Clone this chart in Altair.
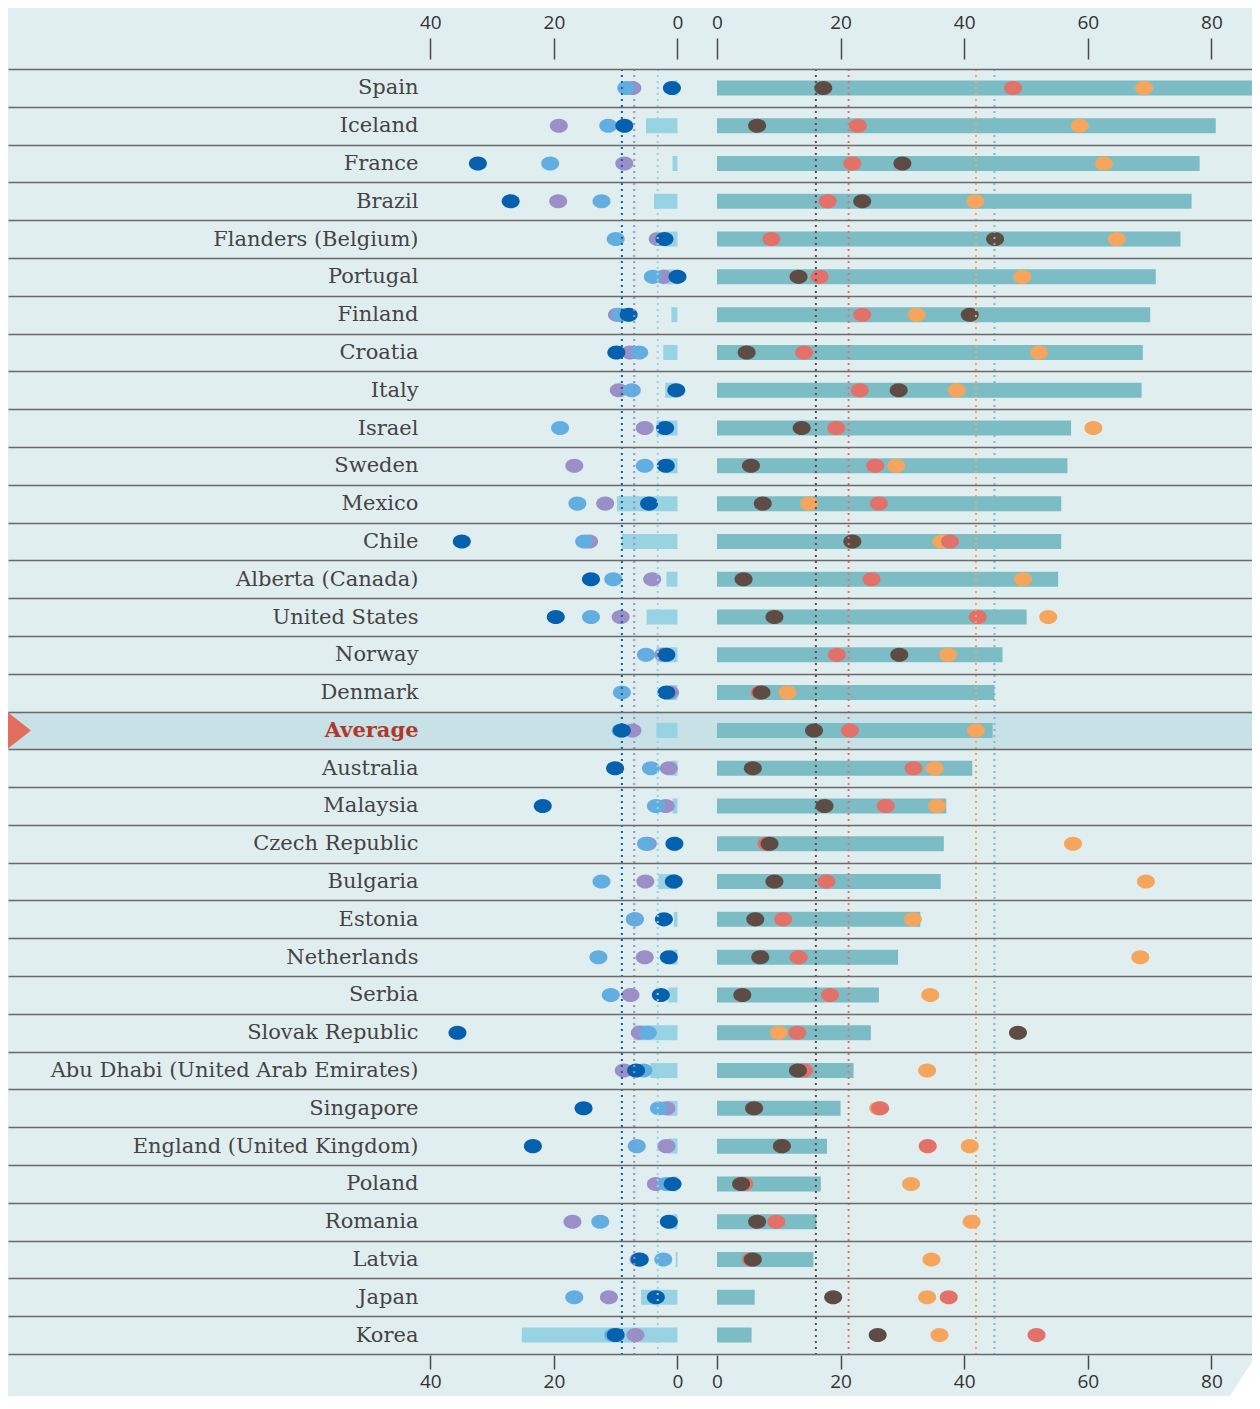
import altair as alt
import pandas as pd

countries = [
    "Spain", "Iceland", "France", "Brazil", "Flanders (Belgium)", "Portugal", "Finland",
    "Croatia", "Italy", "Israel", "Sweden", "Mexico", "Chile", "Alberta (Canada)",
    "United States", "Norway", "Denmark", "Average", "Australia", "Malaysia",
    "Czech Republic", "Bulgaria", "Estonia", "Netherlands", "Serbia", "Slovak Republic",
    "Abu Dhabi (United Arab Emirates)", "Singapore", "England (United Kingdom)", "Poland",
    "Romania", "Latvia", "Japan", "Korea",
]

# left panel (axis reversed: 40 ... 0)
left_bar = [0.6, 5.1, 0.8, 3.8, 2.3, 2.5, 1.0, 2.3, 2.0, 3.4, 1.7, 9.8, 9.0, 1.8,
            5.0, 3.4, 1.2, 3.4, 1.0, 0.8, 0.5, 3.1, 0.6, 1.2, 1.5, 7.1, 4.4, 1.8,
            1.5, 0.8, 0.8, 0.3, 5.9, 25.2]
left_dark = [0.9, 8.6, 32.3, 27.0, 2.1, 0.0, 7.9, 9.9, 0.2, 2.0, 1.9, 4.6, 34.9, 14.0,
             19.7, 1.8, 1.8, 9.0, 10.1, 21.8, 0.5, 0.6, 2.2, 1.4, 2.7, 35.6, 6.7, 15.2,
             23.4, 0.8, 1.4, 6.1, 3.5, 10.0]
left_mid = [8.3, 11.2, 20.6, 12.3, 10.0, 4.0, 9.3, 6.2, 7.4, 19.0, 5.3, 16.2, 15.1, 10.4,
            14.0, 5.1, 9.0, 9.2, 4.3, 3.5, 5.1, 12.3, 6.9, 12.8, 10.8, 4.8, 5.5, 3.0,
            6.6, 1.8, 12.5, 2.3, 16.7, 10.4]
left_purple = [7.3, 19.2, 8.6, 19.3, 3.2, 2.3, 9.8, 7.7, 9.5, 5.3, 16.7, 11.7, 14.3, 4.1,
               9.2, 2.3, 1.2, 7.3, 1.4, 1.9, 4.8, 5.2, 6.9, 5.3, 7.6, 6.1, 8.7, 1.8,
               1.8, 3.5, 17.0, 6.3, 11.1, 6.8]

# right panel (0 ... 80)
right_bar = [86.7, 80.7, 78.1, 76.8, 75.0, 71.0, 70.1, 68.9, 68.7, 57.3, 56.7, 55.7, 55.7,
             55.2, 50.1, 46.2, 44.9, 44.6, 41.3, 37.1, 36.7, 36.2, 32.9, 29.3, 26.2, 24.9,
             22.1, 20.0, 17.8, 16.8, 16.1, 15.6, 6.1, 5.6]
right_brown = [17.2, 6.5, 30.0, 23.5, 45.0, 13.2, 40.9, 4.8, 29.4, 13.7, 5.5, 7.4, 21.9,
               4.3, 9.3, 29.5, 7.2, 15.7, 5.8, 17.4, 8.5, 9.3, 6.2, 7.0, 4.1, 48.7, 13.1,
               6.0, 10.5, 3.9, 6.5, 5.8, 18.8, 26.0]
right_red = [47.9, 22.8, 21.9, 17.9, 8.8, 16.6, 23.5, 14.1, 23.1, 19.3, 25.6, 26.2, 37.7,
             25.0, 42.2, 19.4, 6.9, 21.5, 31.8, 27.3, 8.0, 17.7, 10.7, 13.2, 18.3, 13.0,
             14.1, 26.4, 34.1, 4.4, 9.6, 5.5, 37.5, 51.7]
right_orange = [69.1, 58.7, 62.6, 41.8, 64.7, 49.4, 32.3, 52.1, 38.8, 60.9, 29.0, 14.9,
                36.3, 49.5, 53.6, 37.4, 11.4, 41.9, 35.2, 35.6, 57.6, 69.4, 31.7, 68.5,
                34.5, 10.0, 34.0, 26.1, 40.9, 31.4, 41.2, 34.7, 34.0, 36.0]

# reference (average) lines
left_ref_series = ["dark", "purple", "lbar"]
left_ref_values = [9.0, 7.0, 3.2]
right_ref_series = ["brown", "red", "orange", "tbar"]
right_ref_values = [16.0, 21.3, 41.9, 44.9]

left_ticks = [40, 20, 0]
right_ticks = [0, 20, 40, 60, 80]

GAP = 6.39  # gap between the two panels, in axis units

series_names = ["lbar", "tbar", "purple", "mid", "dark", "orange", "red", "brown"]
series_colors = ["#98d3e3", "#7bbcc5", "#9b8fc7", "#62aee0", "#0560ad",
                 "#f6a65c", "#e3716a", "#5e4c44"]


def left_pos(v):
    return -v


def right_pos(v):
    return v + GAP


# bars
bar_rows = []
for c, v in zip(countries, left_bar):
    bar_rows.append({"country": c, "series": "lbar", "x0": left_pos(0), "x1": left_pos(v)})
for c, v in zip(countries, right_bar):
    bar_rows.append({"country": c, "series": "tbar", "x0": right_pos(0), "x1": right_pos(v)})
bars_df = pd.DataFrame(bar_rows)

# dots (row order = drawing order)
dot_rows = []
for name, vals, f in [("purple", left_purple, left_pos), ("mid", left_mid, left_pos),
                      ("dark", left_dark, left_pos), ("orange", right_orange, right_pos),
                      ("red", right_red, right_pos), ("brown", right_brown, right_pos)]:
    for c, v in zip(countries, vals):
        dot_rows.append({"country": c, "series": name, "pos": f(v)})
dots_df = pd.DataFrame(dot_rows)

ref_rows = [{"series": s, "pos": left_pos(v)} for s, v in zip(left_ref_series, left_ref_values)]
ref_rows += [{"series": s, "pos": right_pos(v)} for s, v in zip(right_ref_series, right_ref_values)]
ref_df = pd.DataFrame(ref_rows)

tick_vals = [left_pos(t) for t in left_ticks] + [right_pos(t) for t in right_ticks]
label_expr = f"datum.value <= 1 ? format(abs(datum.value), 'd') : format(round(datum.value - {GAP}), 'd')"

W, H = 1244, 1285
xscale = alt.Scale(domain=[-108.33, 92.96], nice=False, zero=False)
yscale = alt.Scale(domain=countries, paddingInner=0, paddingOuter=0)
cscale = alt.Scale(domain=series_names, range=series_colors)

axis_common = dict(values=tick_vals, labelExpr=label_expr, domain=False, grid=False,
                   title=None, labelFont="Open Sans", labelFontSize=19,
                   labelColor="#333333", tickColor="#4a4a4a", tickWidth=1.5)
top_axis = alt.Axis(orient="top", offset=10, tickSize=21, labelPadding=6, **axis_common)
bottom_axis = alt.Axis(orient="bottom", offset=1, tickSize=14, labelPadding=3, **axis_common)

yaxis = alt.Axis(orient="left", offset=-410, ticks=False, domain=False, labelPadding=0,
                 labelFont="DejaVu Serif", labelFontSize=21, labelLimit=0,
                 labelColor=alt.ExprRef("datum.value === 'Average' ? '#b0392e' : '#444444'"),
                 labelFontWeight=alt.ExprRef("datum.value === 'Average' ? 'bold' : 'normal'"),
                 grid=True, gridColor="#6a6a6a", gridWidth=1.5, tickBand="extent",
                 title=None, zindex=1)

Y = alt.Y("country:N", scale=yscale, axis=yaxis, sort=countries)
COLOR = alt.Color("series:N", scale=cscale, legend=None)

avg_df = pd.DataFrame({"country": ["Average"]})

highlight = alt.Chart(avg_df).mark_rect(color="#c8e1e6").encode(
    y=Y, x=alt.value(0), x2=alt.value(W))

triangle = alt.Chart(avg_df).mark_point(
    shape="M-0.64,-1L0.64,0L-0.64,1Z", filled=True, size=1296, opacity=1,
    color="#e36d5f", strokeWidth=0).encode(y=Y, x=alt.value(11.5))

corner_df = pd.DataFrame({"k": ["corner"]})
corner = alt.Chart(corner_df).mark_point(
    shape="M0.647,-1L0.647,1L-0.647,1Z", filled=True, size=1156, opacity=1,
    color="#ffffff", strokeWidth=0).encode(x=alt.value(1233), y=alt.value(1310))

bars = alt.Chart(bars_df).mark_bar(size=15).encode(
    x=alt.X("x0:Q", scale=xscale, axis=top_axis), x2="x1:Q", y=Y, color=COLOR)

ELLIPSE = "M-1,0A1,0.78,0,1,1,1,0A1,0.78,0,1,1,-1,0Z"
dots = alt.Chart(dots_df).mark_point(
    shape=ELLIPSE, filled=True, size=324, opacity=1, strokeWidth=0).encode(
    x=alt.X("pos:Q", scale=xscale, axis=None), y=Y, color=COLOR)

rules = alt.Chart(ref_df).mark_rule(strokeDash=[2, 4], strokeWidth=2).encode(
    x=alt.X("pos:Q", scale=xscale, axis=bottom_axis), color=COLOR)

chart = alt.layer(highlight, bars, dots, rules, triangle, corner).resolve_axis(
    x="independent").properties(
    width=W, height=H,
    autosize=alt.AutoSizeParams(type="none"),
    padding={"left": 0, "top": 61, "right": 0, "bottom": 42},
    background="#e1eef0",
).configure_view(stroke=None)

chart.save("out.html", embed_options={"renderer": "svg", "actions": False})
